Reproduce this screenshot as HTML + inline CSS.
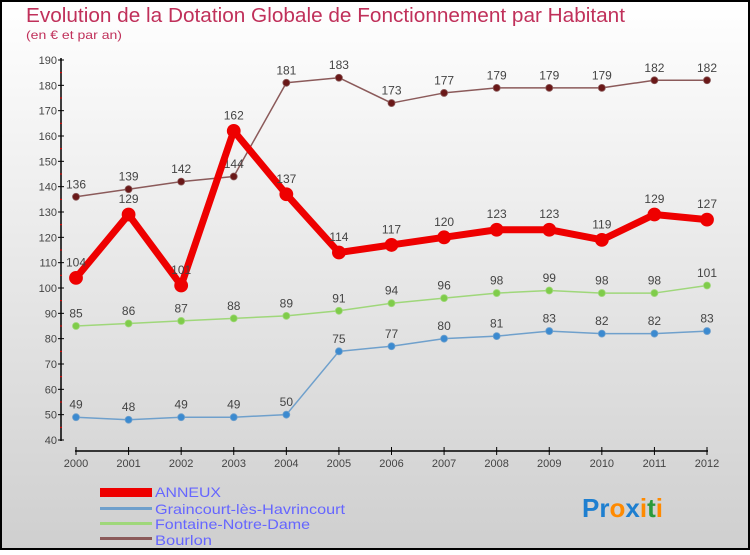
<!DOCTYPE html>
<html><head><meta charset="utf-8"><style>
body{margin:0}
#c{width:750px;height:550px;position:relative;font-family:"Liberation Sans",sans-serif}
</style></head><body>
<div id="c">
<svg id="s" width="750" height="550" xmlns="http://www.w3.org/2000/svg">
<defs><linearGradient id="bg" x1="0" y1="0" x2="0" y2="1"><stop offset="0" stop-color="#ffffff"/><stop offset="1" stop-color="#cfcfcf"/></linearGradient></defs>
<rect x="1" y="1" width="748" height="548" fill="url(#bg)" stroke="#000" stroke-width="2"/>
<text x="26" y="22" font-size="20" fill="#c0305a" textLength="599" lengthAdjust="spacingAndGlyphs">Evolution de la Dotation Globale de Fonctionnement par Habitant</text>
<text x="26" y="39" font-size="12" fill="#c0305a" textLength="96" lengthAdjust="spacingAndGlyphs">(en € et par an)</text>
<g id="axes"></g><g id="series"></g>
<g>
<rect x="100" y="488" width="52" height="9" fill="#ee0000"/>
<text x="155" y="497" font-size="14" fill="#6666ff" textLength="66" lengthAdjust="spacingAndGlyphs">ANNEUX</text>
<rect x="100" y="507" width="52" height="3" fill="#6fa0cc"/>
<text x="155" y="514" font-size="14" fill="#6666ff" textLength="190" lengthAdjust="spacingAndGlyphs">Graincourt-lès-Havrincourt</text>
<rect x="100" y="522" width="52" height="3" fill="#9fd77a"/>
<text x="155" y="529" font-size="14" fill="#6666ff" textLength="155" lengthAdjust="spacingAndGlyphs">Fontaine-Notre-Dame</text>
<rect x="100" y="537" width="52" height="3" fill="#8b5a5a"/>
<text x="155" y="545" font-size="14" fill="#6666ff" textLength="57" lengthAdjust="spacingAndGlyphs">Bourlon</text>
</g>
<text x="582" y="517" font-size="26" font-weight="bold"><tspan fill="#1e7fd0">Pr</tspan><tspan fill="#ff8a00">o</tspan><tspan fill="#1e7fd0">x</tspan><tspan fill="#ff8a00">i</tspan><tspan fill="#2a9a3a">t</tspan><tspan fill="#ff8a00">i</tspan></text>
</svg>
</div>
<script>
const years=[2000,2001,2002,2003,2004,2005,2006,2007,2008,2009,2010,2011,2012];
const anneux=[104,129,101,162,137,114,117,120,123,123,119,129,127];
const graincourt=[49,48,49,49,50,75,77,80,81,83,82,82,83];
const fontaine=[85,86,87,88,89,91,94,96,98,99,98,98,101];
const bourlon=[136,139,142,144,181,183,173,177,179,179,179,182,182];
const yTicks=[40,50,60,70,80,90,100,110,120,130,140,150,160,170,180,190];
const NS="http://www.w3.org/2000/svg";
const X=i=>76+i*(707-76)/(years.length-1);
const Y=v=>440-(v-40)*(380/150);
function mk(t,a,p){const e=document.createElementNS(NS,t);for(const k in a)e.setAttribute(k,a[k]);p.appendChild(e);return e;}
const ax=document.getElementById('axes');
mk('line',{x1:61,y1:58,x2:61,y2:441,stroke:'#000','stroke-width':1.5},ax);
mk('line',{x1:75,y1:451,x2:708,y2:451,stroke:'#000','stroke-width':1.5},ax);
yTicks.forEach(v=>{
 mk('line',{x1:58,y1:Y(v),x2:64,y2:Y(v),stroke:'#000'},ax);
 if(v<190)mk('line',{x1:60,y1:Y(v+5),x2:62,y2:Y(v+5),stroke:'#e00'},ax);
 const t=mk('text',{x:57,y:Y(v)+4,'text-anchor':'end','font-size':11,fill:'#444'},ax);t.textContent=v;
 
 
});
years.forEach((y,i)=>{
 mk('line',{x1:X(i),y1:447,x2:X(i),y2:455,stroke:'#000'},ax);
 const t=mk('text',{x:X(i),y:467,'text-anchor':'middle','font-size':11,fill:'#444'},ax);t.textContent=y;
 
 
});
const sg=document.getElementById('series');
function series(vals,color,dot,w,r,name){
 const g=mk('g',{},sg);
 
 
 mk('polyline',{points:vals.map((v,i)=>X(i)+','+Y(v)).join(' '),fill:'none',stroke:color,'stroke-width':w,'stroke-linejoin':'round'},g);
 vals.forEach((v,i)=>{
  const c=mk('circle',{cx:X(i),cy:Y(v),r:r,fill:dot,stroke:color,'stroke-width':0.8},g);
  
  
  const t=mk('text',{x:X(i),y:Y(v)-(r+5),'text-anchor':'middle','font-size':12,fill:'#444'},g);t.textContent=v;
  
  
 });
}
series(graincourt,'#6fa0cc','#3b8ad0',1.5,3.5,'graincourt');
series(fontaine,'#9fd77a','#7fcc4a',1.5,3.5,'fontaine');
series(bourlon,'#8b5a5a','#6a1818',1.5,3.5,'bourlon');
series(anneux,'#ee0000','#ee0000',7,6.5,'anneux');
</script>
</body></html>
